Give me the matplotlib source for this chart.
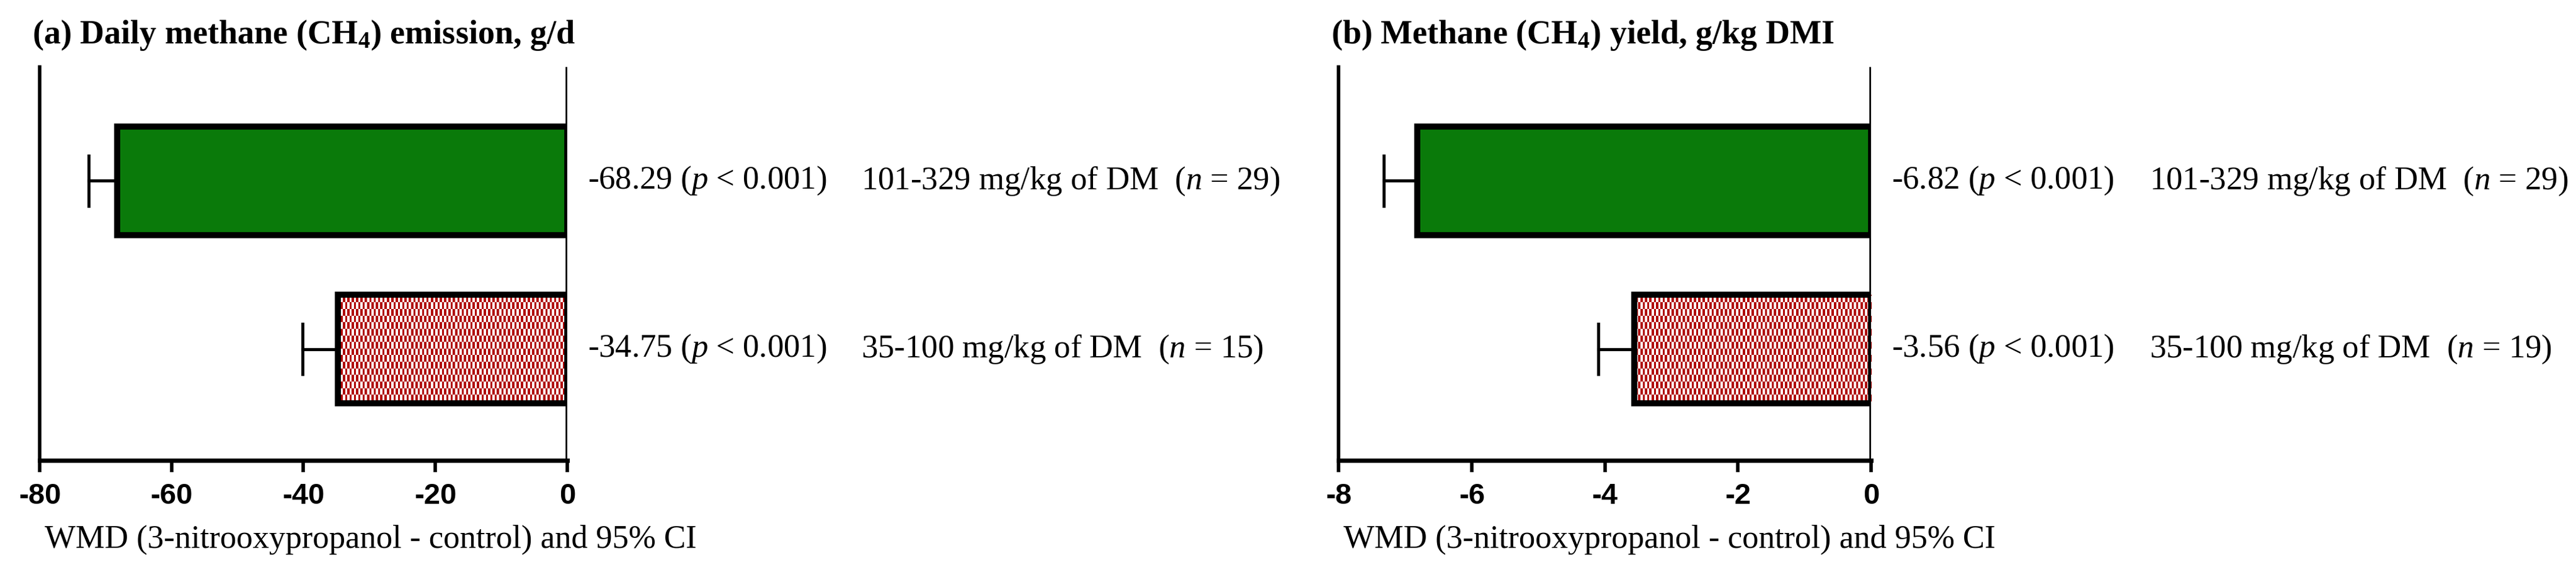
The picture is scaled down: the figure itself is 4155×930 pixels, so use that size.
import numpy as np
import matplotlib
matplotlib.use("Agg")
import matplotlib.pyplot as plt
from matplotlib.colors import ListedColormap

plt.rcParams['mathtext.fontset'] = 'custom'
plt.rcParams['mathtext.rm'] = 'Liberation Serif'
plt.rcParams['mathtext.it'] = 'Liberation Serif:italic'
plt.rcParams['mathtext.bf'] = 'Liberation Serif:bold'
plt.rcParams['hatch.linewidth'] = 4.5

titles = ["(a) Daily methane (CH$_\\mathbf{4}$) emission, g/d", "(b) Methane (CH$_\\mathbf{4}$) yield, g/kg DMI"]
doses = ["101-329 mg/kg of DM", "35-100 mg/kg of DM"]
wmd = [[-68.29, -34.75], [-6.82, -3.56]]
ci_low = [[-72.6, -40.1], [-7.32, -4.1]]
pvals = ["< 0.001", "< 0.001"]
ns = [[29, 15], [29, 19]]
xticks = [[-80, -60, -40, -20, 0], [-8, -6, -4, -2, 0]]
xlabel = "WMD (3-nitrooxypropanol - control) and 95% CI"

fig = plt.figure(figsize=(41.55, 9.3), dpi=100)
FW = 4155
ax_px = [(64, 915), (2159, 3018)]
second_off = [474, 449]
ypos = [1, 0]
serif = 'Liberation Serif'
green = '#0a7a0a'
red = '#b00000'
YLO, YHI = -0.662, 1.677

for k in range(2):
    x0, x1 = ax_px[k]
    ax = fig.add_axes([x0 / FW, 0.2022, (x1 - x0) / FW, 0.6817])
    xmin = xticks[k][0]
    ax.set_xlim(xmin, 0)
    ax.set_ylim(YLO, YHI)
    # hatched green bar (first category)
    ax.barh(ypos[0], wmd[k][0], height=0.646, color='white', edgecolor=green, linewidth=0,
            hatch='\\\\\\\\\\\\', zorder=2)
    # outlines for both bars
    bars = ax.barh(ypos, wmd[k], height=0.646, color='none', edgecolor='black', linewidth=7, zorder=3)
    # checkerboard fill for second bar
    n = 240
    cb = (np.add.outer(np.arange(n // 4), np.arange(n)) % 2).astype(float)
    im = ax.imshow(cb, cmap=ListedColormap(['white', red]), extent=(xmin, 0, YLO, YHI),
                   aspect='auto', interpolation='nearest', zorder=2)
    im.set_clip_path(bars[1])
    for i in range(2):
        ax.plot([ci_low[k][i], wmd[k][i]], [ypos[i], ypos[i]], color='black', lw=3.5, zorder=4)
        ax.plot([ci_low[k][i]] * 2, [ypos[i] - 0.15, ypos[i] + 0.15], color='black', lw=3.5, zorder=4)
    ax.axvline(0, color='black', lw=4, zorder=5)
    for s in ['top', 'right']:
        ax.spines[s].set_visible(False)
    ax.spines['left'].set_linewidth(4)
    ax.spines['bottom'].set_linewidth(5)
    ax.set_yticks([])
    ax.set_xticks(xticks[k])
    ax.set_xticklabels([str(t) for t in xticks[k]], fontfamily='Liberation Sans', fontweight='bold', fontsize=34)
    ax.tick_params(axis='x', length=14, width=4, direction='out', pad=12)
    for i in range(2):
        val = f"{wmd[k][i]:.2f}"
        ax.annotate(f"{val} ($\\it{{p}}$ {pvals[i]})", xy=(0, ypos[i]), xytext=(33, 0), textcoords='offset pixels',
                    fontsize=38, fontfamily=serif, va='center', ha='left', annotation_clip=False)
        ax.annotate(f"{doses[i]}  ($\\it{{n}}$ = {ns[k][i]})", xy=(0, ypos[i]), xytext=(second_off[k], 0),
                    textcoords='offset pixels',
                    fontsize=38, fontfamily=serif, va='center', ha='left', annotation_clip=False)
    fig.text((x0 - 12) / FW, 0.939, titles[k], fontsize=39, fontfamily=serif, fontweight='bold', va='center', ha='left')
    fig.text((x0 + 8) / FW, 0.065, xlabel, fontsize=38, fontfamily=serif, va='center', ha='left')

fig.savefig('out.png', dpi=100)
